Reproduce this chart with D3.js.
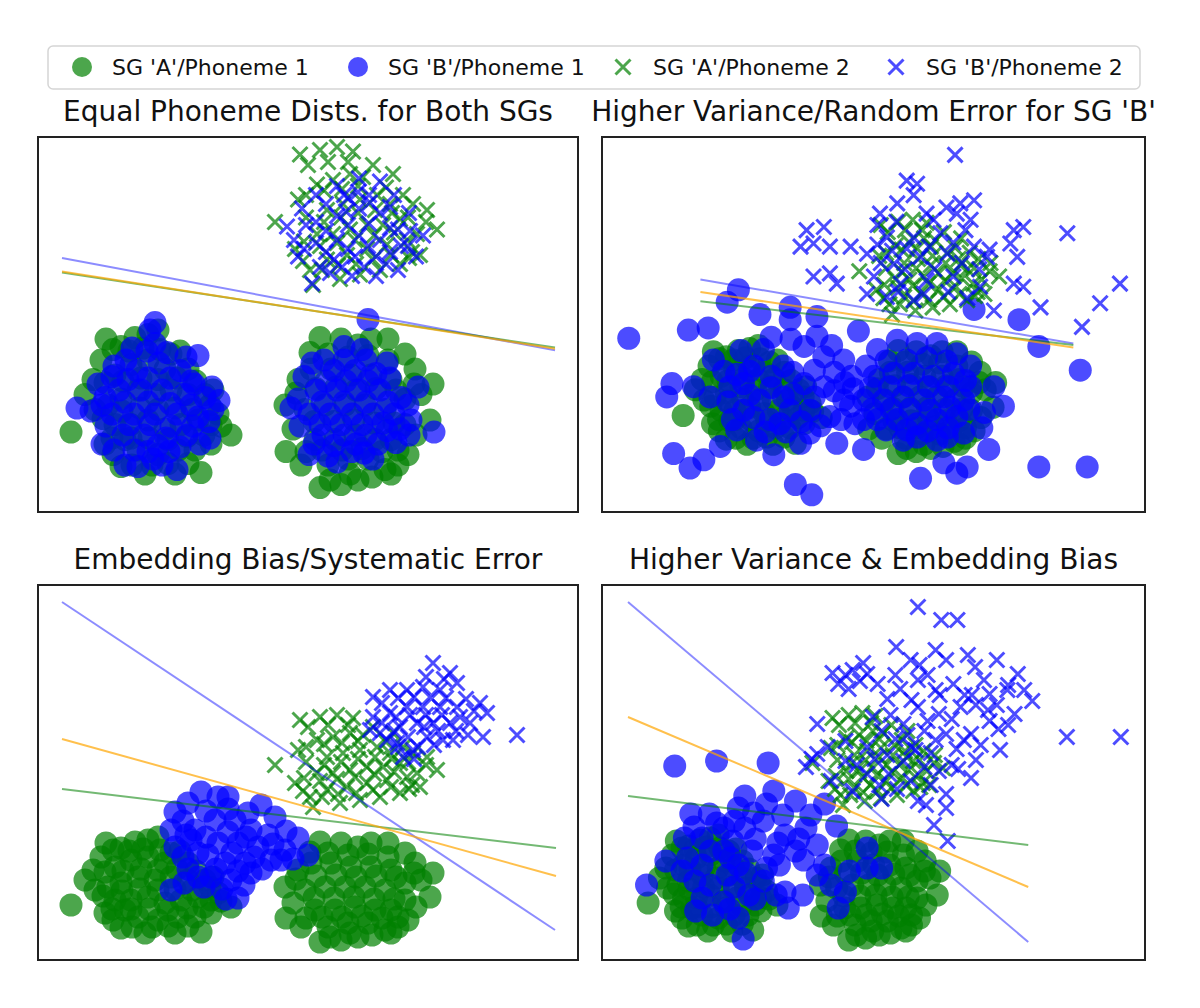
<!DOCTYPE html>
<html>
<head>
<meta charset="utf-8">
<script src="https://cdn.jsdelivr.net/npm/d3@7"></script>
<style>
  body { margin: 0; background: #fff; }
  svg { display: block; font-family: "DejaVu Sans", sans-serif; }
</style>
</head>
<body>
<svg id="chart" width="1200" height="1008"></svg>
<script>
// ---- data (unitless embedding coordinates) ----
const legendLabels = ["SG 'A'/Phoneme 1", "SG 'B'/Phoneme 1", "SG 'A'/Phoneme 2", "SG 'B'/Phoneme 2"];
const panelTitles = [
  "Equal Phoneme Dists. for Both SGs",
  "Higher Variance/Random Error for SG 'B'",
  "Embedding Bias/Systematic Error",
  "Higher Variance & Embedding Bias"
];

// SG 'A' is the same in every panel
const sgA_ph1 = [
  [-8.7,-1.8],[-5.2,4.4],[-3.7,3.9],[-6.5,1.7],[-6.3,-0.3],[-5.3,-2.6],[-3.7,-4.1],[-1.3,-4.6],[1.7,-4.6],[4.3,-4.5],
  [5.3,-2.6],[7.3,-2.0],[6.0,-0.6],[-1.0,4.7],[-2.3,4.5],[0.0,5.0],[-4.3,2.0],[-2.7,2.7],[-1.0,3.0],[0.7,2.4],
  [-3.7,0.4],[-2.0,1.0],[-0.3,0.7],[1.3,1.0],[3.0,0.7],[-2.7,-1.3],[-1.0,-1.0],[0.7,-1.6],[2.3,-1.3],[4.0,-1.0],
  [-2.0,-3.0],[0.0,-3.3],[2.0,-3.0],[3.7,-3.0],[-4.3,-1.3],[-5.0,0.0],[-3.3,-2.3],[4.7,0.7],[3.0,2.4],[5.3,-1.3],
  [1.3,3.4],[-5.7,3.0],[-7.3,0.7],
  [-4.5,3.7],[-2.9,3.6],[-1.5,3.8],[0.2,3.7],[2.2,3.6],[-5.3,1.5],[-3.5,1.6],[-1.7,1.8],[0.0,1.7],[1.9,1.8],
  [3.8,1.6],[5.5,1.0],[-5.5,-0.9],[-3.6,-0.4],[-1.8,-0.2],[0.0,-0.3],[1.7,-0.2],[3.4,-0.3],[5.2,0.0],[-4.6,-2.2],
  [-2.7,-2.2],[-0.9,-2.2],[1.0,-2.3],[2.9,-2.1],[4.6,-2.0],[6.3,-1.4],[-2.6,-4.0],[-0.6,-4.0],[1.0,-3.9],[3.0,-3.9],
  [-4.5,-3.3],
  [12.7,0.0],[12.8,-3.1],[16.2,4.5],[20.0,4.0],[23.0,4.4],[25.7,2.4],[27.5,1.4],[27.2,-1.0],[25.0,-3.3],[16.2,-5.5],
  [20.0,-5.0],[22.7,-4.3],[14.0,1.7],[14.3,-4.0],[18.3,4.4],[21.3,4.4],[24.7,3.4],[26.3,0.7],[18.3,-5.3],[24.0,-4.0],
  [15.3,2.4],[17.3,2.4],[19.3,2.0],[21.3,2.0],[23.3,1.7],[24.7,0.4],[14.7,-0.3],[16.7,0.0],[18.7,0.0],[20.7,0.0],
  [22.7,-0.3],[24.7,-1.3],[15.7,-2.3],[17.7,-2.3],[19.7,-2.0],[21.7,-2.3],[23.3,-2.3],[17.0,-4.0],[19.0,-3.6],[21.0,-3.6],
  [15.2,3.5],[17.0,3.4],[19.0,3.2],[21.0,3.3],[23.0,3.0],[13.8,0.8],[15.8,1.1],[17.8,1.2],[19.8,1.0],[21.8,1.1],
  [23.8,1.0],[25.6,1.4],[13.5,-1.6],[15.6,-1.1],[17.6,-1.1],[19.6,-1.0],[21.6,-1.2],[23.6,-1.2],[25.8,-2.0],[14.8,-3.1],
  [16.4,-3.0],[18.4,-3.0],[20.4,-2.9],[22.4,-3.1],[24.0,-3.0],[17.2,-5.0],[19.2,-4.6],[21.4,-4.8],[23.3,-4.6]
];
const sgA_ph2 = [
  [11.7,12.2],[14.2,16.7],[16.2,17.0],[17.9,17.2],[19.5,16.9],[14.0,13.7],[13.7,10.4],[15.2,9.0],[15.5,8.0],[18.2,8.4],
  [20.2,8.7],[22.2,9.0],[24.2,9.4],[26.2,10.0],[27.9,11.7],[26.9,13.0],[25.5,13.4],[15.9,14.7],[17.5,15.0],[19.2,15.4],
  [16.9,13.0],[18.5,13.4],[20.2,13.7],[21.9,14.0],[15.9,11.4],[17.5,11.4],[19.2,11.7],[20.9,12.0],[22.5,12.0],[24.2,12.4],
  [16.9,9.7],[18.9,10.0],[20.9,10.4],[22.9,10.7],[24.9,11.0],[23.2,13.4],[25.9,11.4],[21.5,16.0],[23.5,15.4],
  [15.0,16.0],[17.0,16.2],[19.0,16.2],[20.5,15.2],[14.8,14.0],[16.6,14.3],[18.4,14.4],[20.0,14.6],[22.8,14.5],[24.5,14.0],
  [14.8,12.5],[16.6,12.2],[18.3,12.5],[20.0,12.8],[21.7,13.0],[23.4,12.8],[25.0,12.5],[26.8,12.2],[14.6,10.9],[16.2,10.6],
  [17.9,10.8],[19.7,11.0],[21.6,11.3],[23.6,11.5],[25.4,10.2],[14.5,9.6],[16.4,9.0],[18.0,9.3],[19.8,9.4],[21.5,9.7],
  [23.3,10.0],[25.1,9.8]
];

// SG 'B', panel 1: equal distributions
const sgB_ph1_equal = [
  [-0.3,5.5],[4.0,3.3],[-8.1,-0.2],[-5.6,-2.6],[-3.3,-4.0],[1.9,-4.3],[-0.5,-3.6],[5.2,-2.2],[6.1,0.3],[-6.0,1.4],
  [-3.2,3.0],[-2.1,2.3],[0.1,2.8],[2.2,2.3],[-3.9,1.0],[-1.7,1.0],[0.4,1.0],[2.6,0.7],[4.7,0.5],[-4.6,-0.6],
  [-2.4,-0.6],[-0.3,-0.6],[1.9,-0.6],[4.0,-0.8],[-3.5,-2.0],[-1.4,-2.0],[0.8,-2.2],[2.9,-2.0],[-1.0,-3.1],[1.1,-3.1],
  [-0.3,4.1],[-6.7,-0.4],[-5.3,0.5],[5.1,-1.1],[-4.6,1.9],[3.6,1.4],
  [-2.6,3.8],[-1.1,3.6],[0.9,3.5],[2.8,3.2],[-4.4,2.6],[-3.0,1.7],[-1.0,1.8],[1.2,1.8],[3.3,1.6],[5.4,1.2],
  [-5.6,0.0],[-3.3,0.2],[-1.0,0.2],[1.2,0.1],[3.3,0.0],[5.5,-0.3],[-5.2,-1.4],[-2.9,-1.3],[-0.8,-1.3],[1.3,-1.4],
  [3.5,-1.4],[-4.4,-3.0],[-2.4,-3.0],[0.0,-2.7],[2.2,-2.8],[4.2,-2.6],[-2.0,-4.1],[0.4,-4.0],[-0.8,5.0],
  [18.6,3.9],[20.4,3.7],[26.0,1.2],[27.6,-1.8],[15.1,-3.3],[13.3,-0.2],[15.4,2.8],[25.1,-2.0],[21.5,-3.6],[17.9,-3.8],
  [22.9,2.8],[17.6,2.3],[19.7,2.3],[21.8,2.1],[15.8,1.0],[17.9,1.0],[20.1,1.0],[22.2,1.0],[24.3,0.5],[15.1,-0.6],
  [17.2,-0.6],[19.4,-0.6],[21.5,-0.6],[23.6,-0.6],[16.5,-2.0],[18.6,-2.0],[20.8,-2.0],[22.9,-1.7],[19.4,-3.1],[21.0,5.7],
  [16.6,3.0],[18.6,3.0],[20.8,3.0],[23.2,1.8],[14.6,1.9],[16.8,1.6],[18.8,1.6],[21.0,1.6],[25.0,0.0],[14.0,0.4],
  [16.4,0.2],[18.6,0.2],[20.8,0.2],[23.0,0.2],[25.3,-1.0],[14.2,-1.4],[16.2,-1.3],[18.3,-1.3],[20.4,-1.3],[22.5,-1.2],
  [24.2,-1.6],[15.6,-2.6],[17.6,-2.7],[19.8,-2.6],[22.0,-2.6],[23.8,-2.5],[17.0,-3.4],[20.6,-3.2]
];
const sgB_ph2_equal = [
  [12.9,11.9],[14.4,13.1],[15.8,14.0],[17.9,14.6],[20.1,15.1],[22.2,14.9],[23.6,14.0],[25.1,12.8],[26.5,11.3],[25.8,9.9],
  [24.0,9.0],[21.8,8.6],[19.4,8.6],[17.2,8.8],[15.4,8.1],[14.0,9.9],[13.6,11.0],[15.8,12.2],[17.9,12.6],[20.1,13.1],
  [22.2,12.8],[24.0,11.7],[15.8,10.8],[17.9,11.0],[20.1,11.3],[22.2,11.0],[24.3,10.6],[17.6,9.7],[19.7,9.9],[21.8,9.9],
  [18.6,14.0],[21.1,14.0],
  [16.8,13.4],[19.0,13.8],[21.2,13.5],[23.2,13.2],[14.8,12.0],[16.8,11.6],[19.0,12.0],[21.1,12.1],[23.2,11.8],[25.2,11.6],
  [14.6,10.4],[16.8,10.2],[19.0,10.4],[21.0,10.6],[23.2,10.2],[25.0,10.6],[16.2,9.2],[18.4,9.2],[20.6,9.2],[22.8,9.4],
  [18.8,12.9],[20.0,14.2]
];

// SG 'B', panel 2: higher variance
const sgB_ph1_var = [
  [-15.0,5.7],[-8.1,6.5],[-5.8,6.7],[0.2,8.0],[-3.6,9.2],[11.6,6.4],[6.8,7.8],[3.7,7.5],[25.0,8.5],[30.2,7.5],
  [32.5,4.9],[37.3,2.6],[28.4,-0.9],[27.3,1.0],[25.9,-3.0],[26.7,-5.1],[32.5,-6.8],[38.1,-6.8],[24.2,-6.8],[21.5,-6.4],
  [18.8,-7.9],[23.0,-7.4],[4.3,-8.5],[6.2,-9.5],[1.8,-5.6],[4.9,-4.5],[9.1,-4.5],[12.2,-5.1],[-4.4,-4.8],[-9.8,-5.5],
  [-7.9,-6.9],[-6.3,-6.1],[-10.6,0.0],[-10.0,1.3],[-7.5,1.0],[-5.6,0.0],[-5.2,3.6],[18.4,-3.9],[21.9,-3.9],[-1.7,1.3],
  [0.6,4.6],[2.9,3.0],[5.3,4.9],[7.6,3.9],[9.9,3.6],[0.2,-0.3],[2.9,0.0],[5.3,1.3],[7.6,1.0],[9.9,-0.3],
  [-1.7,-1.3],[1.4,-2.2],[3.7,-1.3],[6.0,-1.3],[8.3,-1.9],[10.7,-0.9],[-3.3,1.0],[6.8,5.9],[13.8,4.6],[16.1,5.5],
  [18.4,5.2],[20.7,5.2],[23.0,4.2],[13.4,2.0],[15.7,2.3],[18.0,2.3],[20.3,2.0],[22.6,2.3],[24.6,3.0],[12.2,-0.3],
  [14.5,-0.3],[16.8,0.0],[19.2,-0.3],[21.5,0.0],[23.8,-0.3],[13.8,-2.2],[16.1,-2.2],[18.4,-2.6],[20.7,-2.2],[23.0,-1.9],
  [12.2,-2.2],[24.6,1.0],[-0.5,3.0],[-2.5,-3.2],[-0.2,-4.2],[16.8,-4.2],[20.7,-4.2],[23.8,-3.5],[-2.3,10.4],[3.7,8.7],
  [-4.0,2.5],[-2.5,2.2],[-1.0,2.5],[1.5,2.0],[4.0,2.4],[6.5,2.6],[8.8,2.4],[10.8,2.0],[-3.5,-0.5],[-1.0,0.2],
  [1.5,0.9],[4.0,0.3],[6.5,0.0],[8.8,0.6],[11.0,0.8],[-3.0,-2.2],[-0.5,-2.0],[2.5,-2.6],[5.0,-2.4],[7.2,-2.8],
  [9.6,-2.2],[0.8,-3.4],[3.2,-3.4],[6.0,-3.5],[1.5,5.8],[3.8,5.6],[8.5,5.0],[-2.0,4.5],
  [14.8,3.5],[17.2,3.6],[19.5,3.8],[21.8,3.5],[24.0,1.6],[13.0,0.9],[15.2,1.0],[17.4,1.1],[19.7,1.0],[22.0,1.0],
  [13.2,-1.2],[15.4,-1.2],[17.6,-1.2],[19.9,-1.3],[22.2,-1.0],[24.4,-1.2],[14.8,-3.2],[17.2,-3.2],[19.6,-3.3],[22.0,-3.0],
  [26.2,-1.5],[12.5,3.0],[11.2,-2.6],[10.0,1.4]
];
const sgB_ph2_var = [
  [22.8,23.5],[17.2,21.0],[18.4,20.7],[18.0,19.6],[16.1,18.8],[14.1,17.8],[13.8,16.7],[23.4,18.8],[25.0,19.1],[23.0,17.8],
  [24.6,17.2],[5.6,16.2],[7.6,16.5],[6.4,14.9],[4.9,14.6],[8.3,14.6],[6.4,11.7],[8.3,12.0],[9.1,11.0],[29.6,16.2],
  [30.7,16.5],[29.2,14.9],[30.0,13.6],[29.6,11.0],[30.7,10.7],[35.8,15.9],[41.9,11.0],[39.6,9.1],[32.7,8.7],[14.9,15.5],
  [18.0,15.5],[21.1,15.9],[15.7,12.9],[18.8,13.6],[21.9,13.9],[13.4,11.7],[16.5,11.0],[19.5,11.3],[22.6,11.7],[18.0,9.4],
  [14.9,9.7],[12.6,13.9],[10.7,14.6],[25.0,14.6],[26.5,13.6],[25.7,10.7],[20.3,17.2],[12.6,10.0],[27.3,8.4],[37.5,6.8],
  [26.8,14.3],
  [16.0,17.0],[19.5,17.8],[21.8,18.4],[15.5,14.2],[17.2,14.4],[19.8,14.6],[22.6,15.0],[24.0,16.2],[14.2,13.0],[17.0,12.4],
  [20.4,12.4],[23.6,13.0],[25.6,12.4],[16.2,10.2],[19.2,10.0],[22.0,10.2],[24.2,9.6],[13.8,14.8]
];

// SG 'B', panel 3: embedding bias
const sgB_ph1_bias = [
  [4.3,9.5],[6.0,9.0],[1.7,7.5],[10.3,8.2],[11.7,7.0],[1.3,5.7],[14.0,4.9],[15.0,3.2],[11.3,2.7],[8.0,-1.1],
  [1.3,-0.3],[4.0,1.0],[1.7,4.0],[3.7,5.7],[5.7,6.7],[7.7,6.7],[9.3,5.7],[10.0,4.0],[6.0,4.4],[8.0,4.4],
  [4.0,3.4],[6.7,2.4],[8.7,2.4],[12.7,3.7],[5.3,1.0],[7.3,0.7],[9.3,1.4],[3.3,4.7],[12.3,2.7],
  [2.5,6.6],[4.8,7.6],[7.0,7.8],[9.0,7.4],[2.8,5.2],[4.8,5.0],[7.0,5.5],[8.8,5.0],[11.0,5.2],[2.5,3.0],
  [5.0,3.2],[7.4,3.4],[9.6,3.0],[11.5,4.3],[13.5,2.8],[3.0,1.8],[5.8,1.8],[8.0,1.6],[10.4,1.8],[2.6,0.4],
  [4.6,0.0],[6.4,-0.2],[8.6,0.2],[6.8,-1.2],[12.8,5.6],[3.0,8.4],[7.0,9.0]
];
const sgB_ph2_bias = [
  [27.5,22.4],[29.2,21.4],[29.9,20.4],[21.5,19.0],[23.2,19.7],[24.9,19.7],[26.5,20.0],[28.2,19.7],[32.2,18.4],[32.9,17.4],
  [32.5,15.0],[35.9,15.2],[29.5,14.7],[31.2,16.4],[21.5,17.0],[21.2,15.7],[22.9,14.7],[24.5,13.0],[25.5,13.7],[26.9,15.0],
  [23.2,17.4],[24.9,18.0],[26.5,18.0],[28.2,18.0],[29.9,18.0],[24.2,16.0],[25.9,16.4],[27.5,16.4],[29.2,16.4],[28.5,14.7],
  [23.9,14.4],
  [22.4,18.4],[24.0,18.9],[25.6,19.0],[27.2,19.0],[28.8,18.9],[30.8,18.8],[22.4,16.4],[23.8,17.0],[25.2,17.2],[26.8,17.2],
  [28.4,17.2],[30.2,17.0],[31.6,17.6],[22.2,15.4],[23.6,15.6],[25.0,15.0],[26.6,16.0],[28.0,15.6],[29.8,15.6],[31.0,15.2],
  [24.0,14.0],[26.0,14.0],[27.6,14.2],[26.8,21.0],[28.6,20.8],[25.6,12.8]
];

// SG 'B', panel 4: higher variance and bias
const sgB_ph1_both = [
  [-5.4,11.9],[-0.2,12.4],[6.2,12.2],[3.3,8.9],[6.9,9.4],[-3.4,7.1],[-1.1,7.1],[2.5,7.7],[6.0,8.1],[9.6,8.4],
  [13.2,8.1],[14.7,5.9],[-4.2,4.7],[-2.0,4.7],[0.7,5.7],[3.3,5.7],[5.6,6.4],[8.3,5.0],[10.9,5.7],[-3.8,2.7],
  [-2.0,2.0],[0.7,3.4],[2.5,2.0],[4.2,3.4],[6.9,3.0],[9.6,3.4],[12.3,4.0],[13.2,2.0],[18.5,3.7],[20.3,1.7],
  [-8.9,0.0],[-2.0,-1.3],[0.7,-1.7],[-0.7,-3.0],[3.1,-5.4],[3.8,-1.0],[5.6,0.4],[8.7,-2.3],[10.5,-1.0],[12.3,1.0],
  [14.9,-2.3],[15.8,-0.7],[16.3,1.4],[18.5,1.7],[6.0,1.7],[8.3,-0.7],[-2.9,0.4],[1.1,1.0],[2.5,-3.3],[-6.5,2.4],
  [1.8,4.4],[4.6,4.6],[7.4,4.2],[10.0,4.6],[-1.0,3.4],[1.5,2.7],[3.4,1.2],[7.6,2.0],[10.6,2.5],[-3.0,5.8],
  [-0.2,6.2],[2.0,6.4],[4.4,7.2],[8.0,7.0],[11.5,7.0],[-4.5,1.4],[-1.0,0.0],[2.0,-0.2],[4.6,-1.4],[7.2,-1.0],
  [14.0,0.0],[-2.8,-2.6],[1.4,-2.4]
];
const sgB_ph2_both = [
  [24.8,27.8],[27.7,26.5],[29.7,26.5],[22.1,23.8],[23.9,22.5],[28.3,22.5],[16.7,21.5],[18.5,21.1],[14.9,20.1],[19.8,20.1],
  [31.9,21.8],[34.6,22.5],[37.2,21.1],[39.0,18.4],[36.8,17.1],[33.7,16.4],[31.4,15.1],[31.4,10.7],[28.3,9.1],[28.3,7.7],
  [28.5,4.4],[43.3,14.8],[50.0,14.8],[12.3,16.1],[10.9,11.8],[24.8,20.5],[27.0,19.5],[29.2,20.1],[24.8,17.8],[27.4,17.1],
  [30.1,17.8],[23.0,16.1],[25.6,15.4],[28.3,15.1],[23.0,12.4],[25.6,11.8],[27.4,11.4],[20.3,15.4],[18.5,13.8],[15.8,14.4],
  [21.2,11.1],[23.9,10.4],[18.5,11.1],[15.8,12.4],[14.0,10.4],[12.3,13.1],[24.8,8.4],[33.7,19.1],[35.9,19.5],[16.7,9.4],
  [20.3,8.6],
  [21.0,18.6],[22.6,19.6],[26.0,21.0],[30.6,19.0],[32.0,18.0],[34.6,18.0],[22.0,14.6],[24.0,13.8],[26.4,13.2],[29.6,13.6],
  [32.6,14.0],[34.8,15.6],[19.4,12.6],[22.2,9.6],[26.4,10.0],[29.8,11.6],[21.4,17.0],[26.0,16.4],[29.0,16.6],[19.2,16.8],
  [17.2,12.0],[13.6,13.8],[11.6,12.6],[20.0,10.0],[26.8,6.0],[25.8,8.0],[15.8,21.0],[17.6,20.4],[16.2,19.6],[18.0,22.2],
  [14.2,21.2],
  [22.0,21.0],[25.0,22.0],[27.0,23.5],[31.0,23.0],[33.0,20.5],[36.0,20.0],[38.0,19.5],[24.0,18.5],[27.5,19.0],[31.5,19.0],
  [33.5,17.5],[36.0,16.0],[23.5,15.0],[27.0,14.5],[30.5,14.5],[35.0,13.5],[32.0,12.5],[29.0,12.0],[24.5,13.5],[21.0,13.0]
];

// decision boundaries, [[x1, y1], [x2, y2]] per classifier
const bounds_equal = { blue: [[-9.6,9.8],[39.7,3.65]], orange: [[-9.6,8.9],[39.7,3.76]], green: [[-9.6,8.84],[39.7,3.83]] };
const bounds_var   = { blue: [[-6.7,11.4],[36.5,5.2]], orange: [[-6.7,10.2],[36.5,4.8]], green: [[-6.7,9.3],[36.5,5.05]] };
const bounds_bias  = { blue: [[-9.6,28.5],[39.7,-4.3]], orange: [[-9.6,14.8],[39.8,1.1]], green: [[-9.6,9.8],[39.8,3.9]] };
const bounds_both  = { blue: [[-11.2,28.3],[38.5,-5.7]], orange: [[-11.2,16.8],[38.5,-0.2]], green: [[-11.2,8.9],[38.5,4.0]] };

// axis limits of each panel
const xLims = [[-12, 42], [-18.1, 44.8], [-12, 42], [-14.43, 53.0]];
const yLims = [[-7.13, 17.87], [-11.17, 25.24], [-7.3, 30.2], [-7.5, 30.0]];

// ---- drawing ----
const svg = d3.select("#chart");
const colA = "#008000", colB = "#0000ff";
const markAlpha = 0.7, dotR = 11.5, crossS = 7.5;
const crossPath = `M${-crossS},${-crossS}L${crossS},${crossS}M${-crossS},${crossS}L${crossS},${-crossS}`;

const panels = [
  { b1: sgB_ph1_equal, b2: sgB_ph2_equal, bounds: bounds_equal, box: [38, 137] },
  { b1: sgB_ph1_var,   b2: sgB_ph2_var,   bounds: bounds_var,   box: [602, 137] },
  { b1: sgB_ph1_bias,  b2: sgB_ph2_bias,  bounds: bounds_bias,  box: [38, 585] },
  { b1: sgB_ph1_both,  b2: sgB_ph2_both,  bounds: bounds_both,  box: [602, 585] }
];
const boxW = [540, 543, 540, 543], boxH = 375;

panels.forEach((p, i) => {
  const [bx, by] = p.box, bw = boxW[i];
  const x = d3.scaleLinear().domain(xLims[i]).range([bx, bx + bw]);
  const y = d3.scaleLinear().domain(yLims[i]).range([by + boxH, by]);

  svg.append("clipPath").attr("id", "clip" + i)
    .append("rect").attr("x", bx).attr("y", by).attr("width", bw).attr("height", boxH);

  const g = svg.append("g").attr("clip-path", `url(#clip${i})`);

  const dots = (data, color) => g.append("g").selectAll("circle")
    .data(data).join("circle")
    .attr("cx", d => x(d[0])).attr("cy", d => y(d[1]))
    .attr("r", dotR).attr("fill", color).attr("fill-opacity", markAlpha);

  const crosses = (data, color) => g.append("g").selectAll("path")
    .data(data).join("path")
    .attr("d", crossPath)
    .attr("transform", d => `translate(${x(d[0])},${y(d[1])})`)
    .attr("fill", "none").attr("stroke", color).attr("stroke-width", 3)
    .attr("stroke-opacity", markAlpha);

  dots(sgA_ph1, colA);
  dots(p.b1, colB);
  crosses(sgA_ph2, colA);
  crosses(p.b2, colB);

  // boundaries: orange drawn last so it sits on top, as in the reference
  const line = d3.line().x(d => x(d[0])).y(d => y(d[1]));
  [["blue", "#0000ff", 0.45], ["green", "#008000", 0.55], ["orange", "#ffa500", 0.7]].forEach(([k, c, a]) => {
    g.append("path").attr("d", line(p.bounds[k]))
      .attr("fill", "none").attr("stroke", c).attr("stroke-width", 2).attr("stroke-opacity", a);
  });

  svg.append("rect").attr("x", bx).attr("y", by).attr("width", bw).attr("height", boxH)
    .attr("fill", "none").attr("stroke", "#222").attr("stroke-width", 2);

  svg.append("text").attr("x", bx + bw / 2).attr("y", by - 16)
    .attr("text-anchor", "middle").attr("font-size", 28).attr("fill", "#111")
    .text(panelTitles[i]);
});

// legend
const legend = svg.append("g");
legend.append("rect").attr("x", 48).attr("y", 46).attr("width", 1092).attr("height", 43)
  .attr("rx", 5).attr("fill", "#fff").attr("stroke", "#d5d5d5").attr("stroke-width", 1.5);
const legX = [82, 358, 623, 896];
legendLabels.forEach((lab, i) => {
  const color = i % 2 === 0 ? colA : colB;
  const item = legend.append("g").attr("transform", `translate(${legX[i]},67)`);
  if (i < 2) {
    item.append("circle").attr("r", 10).attr("fill", color).attr("fill-opacity", markAlpha);
  } else {
    item.append("path").attr("d", crossPath).attr("fill", "none")
      .attr("stroke", color).attr("stroke-width", 3).attr("stroke-opacity", markAlpha);
  }
  item.append("text").attr("x", 30).attr("y", 7.5).attr("font-size", 22).attr("fill", "#111").text(lab);
});
</script>
</body>
</html>
